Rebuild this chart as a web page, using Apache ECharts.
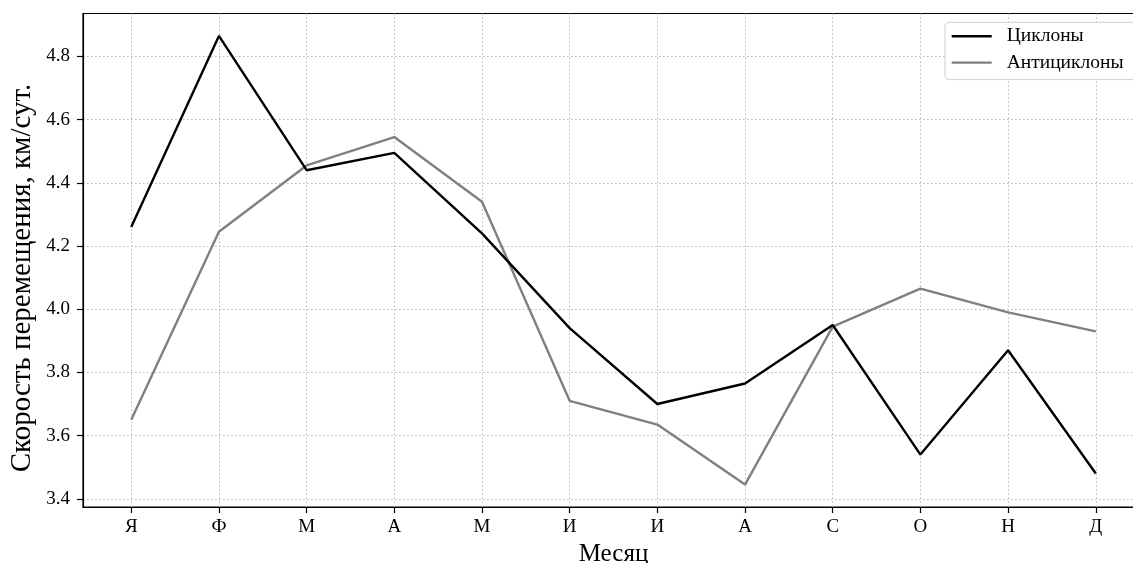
<!DOCTYPE html>
<html><head><meta charset="utf-8">
<script src="https://cdn.jsdelivr.net/npm/echarts@6/dist/echarts.min.js"></script>
<style>html,body{margin:0;padding:0;background:#fff}#c{width:1133px;height:563px}</style>
</head><body><div id="c"></div>
<script>
const months = ['Я','Ф','М','А','М','И','И','А','С','О','Н','Д'];
const cyclones = [4.26, 4.865, 4.44, 4.495, 4.24, 3.94, 3.70, 3.765, 3.95, 3.54, 3.87, 3.48];
const anticyclones = [3.65, 4.245, 4.455, 4.545, 4.34, 3.71, 3.635, 3.445, 3.945, 4.065, 3.99, 3.93];
const yTicks = [3.4, 3.6, 3.8, 4.0, 4.2, 4.4, 4.6, 4.8];
const seriesNames = ['Циклоны', 'Антициклоны'];
const xTitle = 'Месяц';
const yTitle = 'Скорость перемещения, км/сут.';

const FONT = 'Liberation Serif';
const xTicks = months.map((m, i) => i);
const chart = echarts.init(document.getElementById('c'), null, {renderer: 'canvas'});
chart.setOption({
  animation: false,
  backgroundColor: '#fff',
  textStyle: {fontFamily: FONT},
  grid: {left: 83, right: -11, top: 13.5, bottom: 56, outerBoundsMode: 'none', containLabel: false,
         show: true, borderColor: '#000', borderWidth: 1.2, backgroundColor: 'transparent'},
  legend: {
    orient: 'vertical', left: 945, top: 22.3,
    padding: [4, 30, 7, 6.7], itemGap: 6.3,
    itemWidth: 40, itemHeight: 14,
    backgroundColor: '#fff', borderColor: '#d0d0d0', borderWidth: 1, borderRadius: 4,
    textStyle: {fontFamily: FONT, fontSize: 19.5, lineHeight: 19, color: '#000', padding: [0,0,0,10]},
    data: seriesNames.map(n => ({name: n, icon: 'path://M0,0 L40,0 L40,2.4 L0,2.4 Z'}))
  },
  graphic: [{
    type: 'text', x: 22, y: 278, rotation: Math.PI / 2,
    style: {text: yTitle, fontFamily: FONT, fontSize: 29, fill: '#000', align: 'center', verticalAlign: 'middle'}
  }],
  xAxis: {
    type: 'value', min: -0.55, max: 11.55,
    name: xTitle, nameLocation: 'middle', nameGap: 33,
    nameTextStyle: {fontFamily: FONT, fontSize: 25, color: '#000'},
    axisLine: {show: true, onZero: false, lineStyle: {color: '#000', width: 1.2}},
    axisTick: {show: true, length: 6, lineStyle: {color: '#000', width: 1.2}, customValues: xTicks},
    axisLabel: {customValues: xTicks, formatter: v => months[Math.round(v)], fontFamily: FONT, fontSize: 19, color: '#000', margin: 11},
    splitLine: {show: true, lineStyle: {color: '#b8b8b8', type: [1.5, 2.5], width: 1}}
  },
  yAxis: {
    type: 'value', min: 3.374, max: 4.936,
    axisLine: {show: true, onZero: false, lineStyle: {color: '#000', width: 1.2}},
    axisTick: {show: true, length: 6, lineStyle: {color: '#000', width: 1.2}, customValues: yTicks},
    axisLabel: {customValues: yTicks, formatter: v => v.toFixed(1), fontFamily: FONT, fontSize: 19, color: '#000', margin: 13},
    splitLine: {show: true, lineStyle: {color: '#b8b8b8', type: [1.5, 2.5], width: 1}}
  },
  series: [
    {name: seriesNames[0], type: 'line', symbol: 'none', color: '#000', lineStyle: {color: '#000', width: 2.4},
     data: cyclones.map((v, i) => [i, v]), z: 3},
    {name: seriesNames[1], type: 'line', symbol: 'none', color: '#808080', lineStyle: {color: '#808080', width: 2.4},
     data: anticyclones.map((v, i) => [i, v]), z: 2}
  ]
});
</script></body></html>
